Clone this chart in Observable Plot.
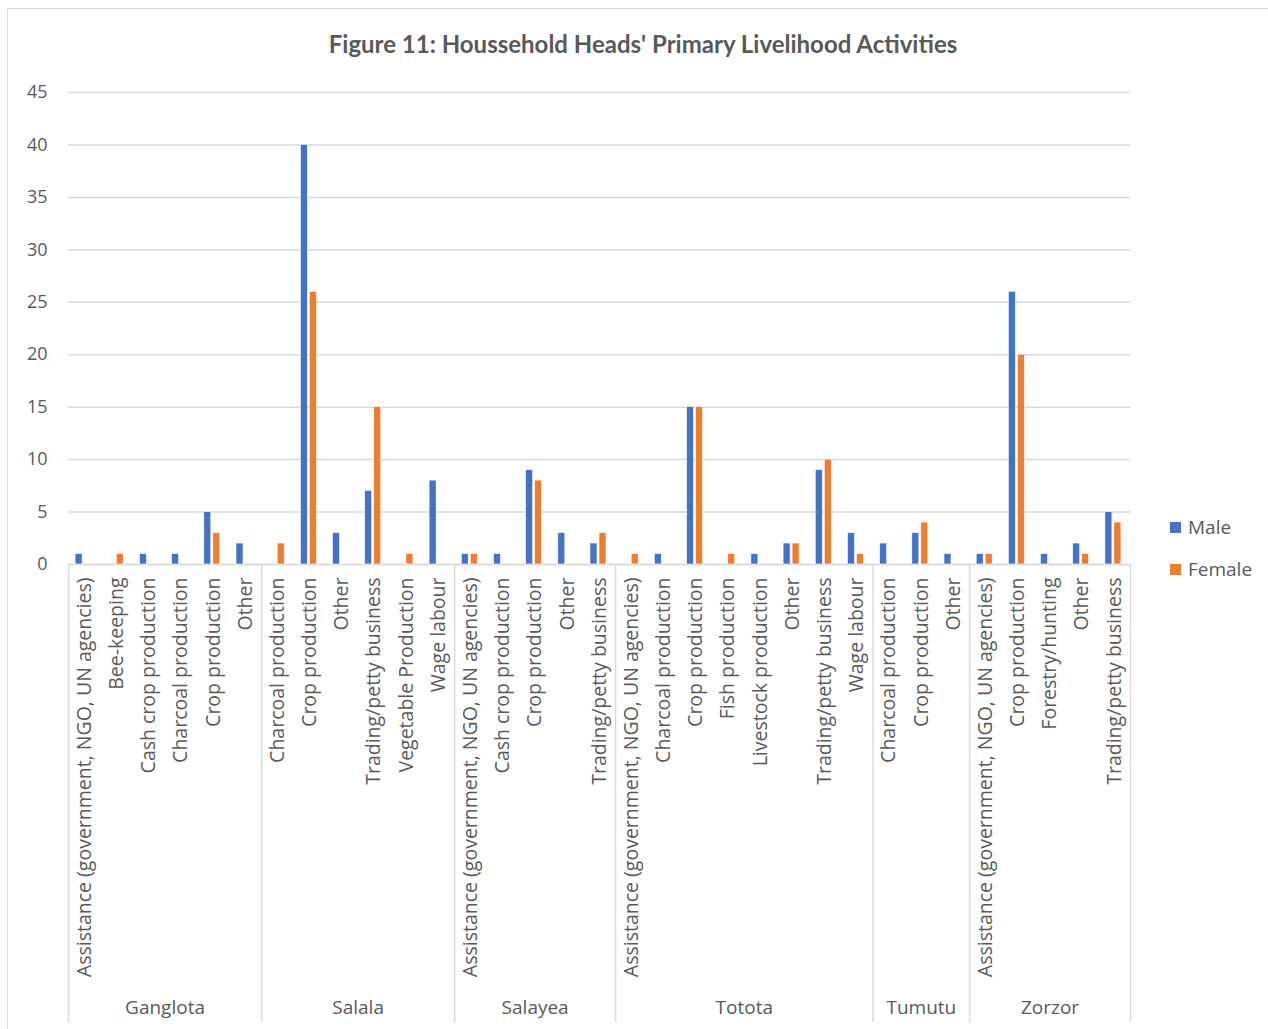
<!DOCTYPE html>
<html>
<head>
<meta charset="utf-8">
<script src="https://cdn.jsdelivr.net/npm/d3@7"></script>
<script src="https://cdn.jsdelivr.net/npm/@observablehq/plot@0.6"></script>
<style>
  html, body { margin: 0; padding: 0; background: #fff; overflow: hidden; }
  #wrap { position: relative; width: 1268px; height: 1029px; overflow: hidden; font-family: "Open Sans", sans-serif; color: #595959; background: #fff; }
  #frame { position: absolute; left: 7px; top: 8px; width: 1320px; height: 1100px; border: 1.5px solid #d9d9d9; box-sizing: border-box; }
  #title { position: absolute; left: 8px; width: 1270px; top: 28px; text-align: center; font-family: Lato, sans-serif; font-weight: bold; font-size: 24px; color: #595959; line-height: 32px; }
  #chart { position: absolute; left: 0; top: 80px; }
  .leg { position: absolute; left: 1170px; font-size: 19px; color: #595959; display: flex; align-items: center; line-height: 24px; }
  .leg span.sw { display: inline-block; width: 11px; height: 11px; margin-right: 7px; }
</style>
</head>
<body>
<div id="wrap">
  <div id="frame"></div>
  <div id="title">Figure 11: Houssehold Heads' Primary Livelihood Activities</div>
  <div id="chart"></div>
  <div class="leg" style="top:515px"><span class="sw" style="background:#4472C4"></span>Male</div>
  <div class="leg" style="top:557px"><span class="sw" style="background:#ED7D31"></span>Female</div>
</div>
<script>
const districts = ["Ganglota", "Salala", "Salayea", "Totota", "Tumutu", "Zorzor"];

const district = [
  "Ganglota","Ganglota","Ganglota","Ganglota","Ganglota","Ganglota",
  "Salala","Salala","Salala","Salala","Salala","Salala",
  "Salayea","Salayea","Salayea","Salayea","Salayea",
  "Totota","Totota","Totota","Totota","Totota","Totota","Totota","Totota",
  "Tumutu","Tumutu","Tumutu",
  "Zorzor","Zorzor","Zorzor","Zorzor","Zorzor"
];

const activity = [
  "Assistance (government, NGO, UN agencies)","Bee-keeping","Cash crop production","Charcoal production","Crop production","Other",
  "Charcoal production","Crop production","Other","Trading/petty business","Vegetable Production","Wage labour",
  "Assistance (government, NGO, UN agencies)","Cash crop production","Crop production","Other","Trading/petty business",
  "Assistance (government, NGO, UN agencies)","Charcoal production","Crop production","Fish production","Livestock production","Other","Trading/petty business","Wage labour",
  "Charcoal production","Crop production","Other",
  "Assistance (government, NGO, UN agencies)","Crop production","Forestry/hunting","Other","Trading/petty business"
];

const male = [
  1, 0, 1, 1, 5, 2,
  0, 40, 3, 7, 0, 8,
  1, 1, 9, 3, 2,
  0, 1, 15, 0, 1, 2, 9, 3,
  2, 3, 1,
  1, 26, 1, 2, 5
];

const female = [
  0, 1, 0, 0, 3, 0,
  2, 26, 0, 15, 1, 0,
  1, 0, 8, 0, 3,
  1, 0, 15, 1, 0, 2, 10, 1,
  0, 4, 0,
  1, 20, 0, 1, 4
];

const yTicks = [0, 5, 10, 15, 20, 25, 30, 35, 40, 45];

const rows = activity.map((a, i) => ({ key: district[i] + "|" + a, district: district[i], activity: a, male: male[i], female: female[i] }));
const keys = rows.map(r => r.key);

const groups = districts.map(g => {
  const members = rows.filter(r => r.district === g);
  return { name: g, first: members[0].key, last: members[members.length - 1].key, n: members.length };
});

const W = 1268, H = 949, mL = 68, mR = 138, mT = 12, mB = 465;
const bw = (W - mL - mR) / keys.length;
const plotH = H - mT - mB;
const grid = "#d9d9d9", txt = "#595959";

const chart = Plot.plot({
  width: W, height: H,
  marginLeft: mL, marginRight: mR, marginTop: mT, marginBottom: mB,
  style: { fontFamily: "'Open Sans', sans-serif", color: txt, background: "transparent", overflow: "visible" },
  x: { type: "band", domain: keys, padding: 0, round: false, axis: null },
  y: { domain: [0, 45], axis: null },
  marks: [
    Plot.gridY(yTicks, { stroke: grid, strokeOpacity: 1, strokeWidth: 1.5 }),
    Plot.axisY(yTicks, { tickSize: 0, tickPadding: 21, fontSize: 18, fill: txt, label: null }),
    Plot.ruleY([0], { stroke: grid, strokeWidth: 1.5 }),
    Plot.barY(rows, { filter: d => d.male > 0, x: "key", y: "male", fill: "#4472C4", stroke: "white", strokeWidth: 0.6, insetLeft: bw / 2 - 9, insetRight: bw / 2 + 2 }),
    Plot.barY(rows, { filter: d => d.female > 0, x: "key", y: "female", fill: "#ED7D31", stroke: "white", strokeWidth: 0.6, insetLeft: bw / 2, insetRight: bw / 2 - 7 }),
    Plot.axisX({ tickSize: 0, tickPadding: 13, tickRotate: -90, fontSize: 19.5, fill: txt, label: null, tickFormat: k => k.split("|")[1] }),
    Plot.ruleX(groups, { x: "first", dx: -bw / 2, stroke: grid, strokeWidth: 1.5, insetTop: plotH, insetBottom: -458 }),
    Plot.ruleX(groups.slice(-1), { x: "last", dx: bw / 2, stroke: grid, strokeWidth: 1.5, insetTop: plotH, insetBottom: -458 }),
    ...groups.map(g => Plot.text([g], { x: "first", dx: (g.n - 1) / 2 * bw, text: "name", frameAnchor: "bottom", dy: 443, fontSize: 19, fill: txt, lineAnchor: "middle" }))
  ]
});
document.getElementById("chart").appendChild(chart);
</script>
</body>
</html>
